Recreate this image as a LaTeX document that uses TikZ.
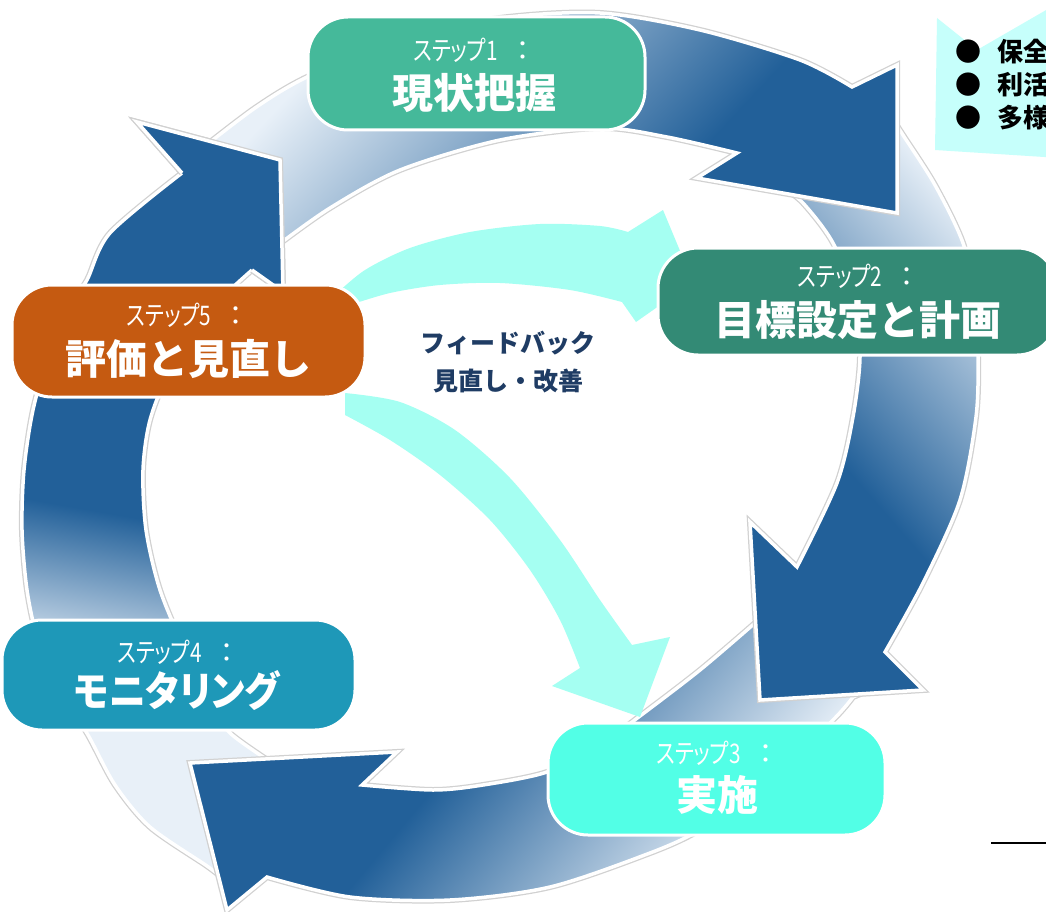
\documentclass[tikz,border=0pt]{standalone}
\usepackage{fontspec}
\usepackage{graphicx}
\newfontfamily\jpf{Noto Sans CJK JP}
\newfontfamily\jpp{Noto Sans CJK JP}[RawFeature={+palt}]
\definecolor{alight}{RGB}{232,240,248}
\definecolor{adark}{RGB}{34,96,153}
\definecolor{cOne}{RGB}{69,185,154}
\definecolor{cTwo}{RGB}{51,138,117}
\definecolor{cThree}{RGB}{82,255,230}
\definecolor{cFour}{RGB}{30,152,184}
\definecolor{cFive}{RGB}{197,90,17}
\definecolor{fbcol}{RGB}{165,255,242}
\definecolor{navy}{RGB}{31,60,100}
\definecolor{callcol}{RGB}{198,255,251}
\tikzset{
 halo/.style={draw=black!18, line width=6pt, line join=miter},
 rim/.style={draw=white, line width=3.5pt, line join=miter},
 stepbox/.style={draw=white, line width=3pt, rounded corners=40pt, inner sep=0pt},
 steplbl/.style={font=\jpp\fontsize{27}{30}\selectfont, text=white, inner sep=0pt, anchor=base},
 stepmain/.style={font=\jpf\bfseries\fontsize{41}{46}\selectfont, text=white, inner sep=0pt, anchor=base},
 fbtext/.style={font=\jpf\bfseries\fontsize{25}{30}\selectfont, text=navy, inner sep=0pt, anchor=base},
 calltext/.style={font=\jpf\bfseries\fontsize{26}{30}\selectfont, text=black, inner sep=0pt, anchor=base west},
 bullet/.style={font=\jpf\fontsize{26}{30}\selectfont, text=black, inner sep=0pt, anchor=base},
}
\newcommand\stepl[1]{\scalebox{0.77}[1]{ステップ#1}\hspace{11.5pt}{\jpf ：}}
% #1 path, #2 #3 centre, #4 angle, #5 light end, #6 dark start
\newcommand\gradarrow[6]{%
 \draw[halo] #1;
 \begin{scope}
  \clip #1;
  \fill[adark] (-100,-100) rectangle (1200,1100);
  \begin{scope}[transform canvas={rotate around={#4:(#2,#3)}}]
   \fill[alight] ({#2-2000},{#3-2000}) rectangle ({#2+(#5)+1},{#3+2000});
   \shade[left color=alight,right color=adark] ({#2+(#5)},{#3-2000}) rectangle ({#2+(#6)},{#3+2000});
  \end{scope}
 \end{scope}
 \draw[rim] #1;
}
\begin{document}
\begin{tikzpicture}[x=1pt,y=-1pt]
\useasboundingbox (0,0) rectangle (1046,912);
\fill[white] (0,0) rectangle (1046,912);

\def\pathA{(200,150) -- plot[smooth] coordinates {(200,150) (255,108) (307,77) (400,38) (500,18) (600,13) (700,30) (800,60) (852,87)} -- (897,65) -- (897,213) -- (697,178) -- plot[smooth] coordinates {(737,153) (667,137) (600,128) (500,140) (400,170) (330,208) (278,245)} -- cycle}
\def\pathB{(890,115) -- plot[smooth] coordinates {(890,115) (903,135) (935,185) (963,243) (975,300) (978,357) (976,417) (960,500) (923,583) (885,652)} -- (923,690) -- (760,700) -- (750,522) -- plot[smooth] coordinates {(797,567) (837,483) (853,417) (860,357) (855,300) (833,243) (803,203) (780,185)} -- cycle}
\def\pathC{(870,690) -- plot[smooth] coordinates {(853,697) (833,720) (760,790) (700,830) (650,853) (550,887) (450,900) (350,897) (267,877)} -- (227,910) -- (190,763) -- (397,752) -- plot[smooth] coordinates {(362,785) (433,790) (483,785) (547,772) (600,745) (640,716) (700,670) (755,623)} -- (770,610) -- cycle}
\def\pathD{(225,880) -- plot[smooth] coordinates {(225,880) (207,866) (150,827) (115,785) (88,735) (60,690) (38,640) (27,590) (22,530) (24,470) (33,410) (50,350) (70,305) (87,280) (110,233) (182,173)} -- (137,122) -- (280,160) -- (283,292) -- plot[smooth] coordinates {(252,270) (205,315) (170,370) (150,420) (143,470) (146,530) (160,590) (185,650) (210,700) (230,733) (283,770)} -- (290,780) -- cycle}
\def\headD{(182,173) -- (137,122) -- (280,160) -- (283,292) -- (252,270)}

\gradarrow{\pathD}{150}{500}{80}{-180}{-20}
\gradarrow{\pathC}{550}{800}{140}{-174}{97}
\gradarrow{\pathB}{870}{420}{-139}{-213}{50}
\gradarrow{\pathA}{550}{130}{-43}{-215}{125}
\draw[halo] \headD;
\fill[adark] \headD -- cycle;
\draw[rim] \headD;

% feedback arrows
\fill[fbcol] plot[smooth] coordinates {(335,295) (365,270) (410,248) (470,232) (540,224) (600,226) (628,232)} -- (663,210) -- (693,282) -- (636,322) -- plot[smooth] coordinates {(622,302) (570,290) (500,283) (440,285) (390,293) (350,305)} -- cycle;
\fill[fbcol] plot[smooth] coordinates {(345,393) (400,402) (455,430) (510,478) (560,540) (600,600) (632,645)} -- (670,637) -- (640,717) -- (552,686) -- plot[smooth] coordinates {(580,668) (560,620) (530,570) (490,520) (440,475) (390,440) (345,415)} -- cycle;

% callout
\fill[callcol] (937,18) -- (977,50) -- (1060,2) -- (1060,158) -- (935,150) -- cycle;
\node[bullet] (bu1) at (968,62) {●};
\node[bullet] (bu2) at (968,95) {●};
\node[bullet] (bu3) at (968,128) {●};
\node[calltext] (ct1) at (997,62) {保全};
\node[calltext] (ct2) at (997,95) {利活};
\node[calltext] (ct3) at (997,128) {多様};

% boxes
\node[stepbox, fill=cOne, minimum width=337pt, minimum height=113pt] (b1) at (476.5,73.5) {};
\node[stepbox, fill=cTwo, minimum width=399pt, minimum height=107pt] (b2) at (857.5,301.5) {};
\node[stepbox, fill=cThree, minimum width=337pt, minimum height=112pt] (b3) at (716.5,779) {};
\node[stepbox, fill=cFour, minimum width=353pt, minimum height=110pt] (b4) at (178.5,675) {};
\node[stepbox, fill=cFive, minimum width=353pt, minimum height=112pt] (b5) at (188.5,341) {};

\node[steplbl] (l1) at (474.75,60.7) {\stepl{1}};
\node[stepmain] (m1) at (474,108.6) {現状把握};
\node[steplbl] (l2) at (859.25,286.7) {\stepl{2}};
\node[stepmain] (m2) at (858,335) {目標設定と計画};
\node[steplbl] (l3) at (717.75,763.7) {\stepl{3}};
\node[stepmain] (m3) at (717,810.6) {実施};
\node[steplbl] (l4) at (178.75,662.2) {\stepl{4}};
\node[stepmain, font=\jpp\bfseries\fontsize{41}{46}\selectfont] (m4) at (177,706.6) {\scalebox{0.9}[1]{モニタリング}};
\node[steplbl] (l5) at (188.25,325.7) {\stepl{5}};
\node[stepmain] (m5) at (188,374) {評価と見直し};

\node[fbtext] (f1) at (508,352.5) {フィードバック};
\node[fbtext] (f2) at (508,390.5) {見直し・改善};

\coordinate (ln1) at (991,843);
\coordinate (ln2) at (1050,843);
\draw[line width=2pt] (ln1) -- (ln2);
\end{tikzpicture}
\end{document}
